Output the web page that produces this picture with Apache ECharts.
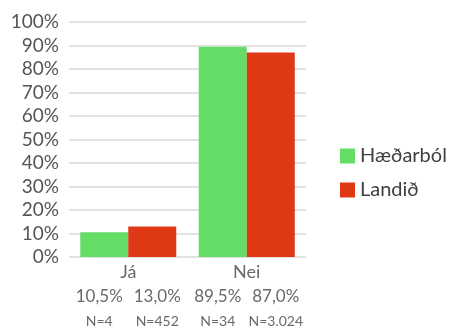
<!DOCTYPE html>
<html>
<head>
<meta charset="utf-8">
<script src="https://cdn.jsdelivr.net/npm/echarts@6/dist/echarts.min.js"></script>
<style>
  html, body { margin: 0; padding: 0; background: #fff; }
  #chart { width: 457px; height: 331px; }
</style>
</head>
<body>
<div id="chart"></div>
<script>
// Survey answers: share of respondents per answer, local area vs whole country
const categories = ['Já', 'Nei'];
const seriesNames = ['Hæðarból', 'Landið'];
const haedarbolValues = [10.5, 89.5];
const landidValues = [13.0, 87.0];
const haedarbolCounts = ['N=4', 'N=34'];
const landidCounts = ['N=452', 'N=3.024'];
const yTicks = [0, 10, 20, 30, 40, 50, 60, 70, 80, 90, 100];

const FONT = 'Lato, "Noto Sans", sans-serif';
const TEXT = '#6a6a6a';
const fmt = v => v.toFixed(1).replace('.', ',') + '%';

function labelFor(counts, dx) {
  return {
    show: true,
    position: 'bottom',
    distance: 28,
    offset: [dx, 0],
    formatter: p => '{v|' + fmt(p.value) + '}\n{n|' + counts[p.dataIndex] + '}',
    rich: {
      v: { fontFamily: FONT, fontSize: 17, color: TEXT, lineHeight: 24, align: 'center' },
      n: { fontFamily: FONT, fontSize: 14, color: TEXT, lineHeight: 24, align: 'center' }
    }
  };
}

const chart = echarts.init(document.getElementById('chart'));
chart.setOption({
  animation: false,
  grid: { left: 69, right: 151, top: 22, bottom: 74 },
  legend: {
    orient: 'vertical',
    left: 340,
    top: 146,
    padding: 0,
    itemWidth: 15,
    itemHeight: 15,
    itemGap: 14,
    itemTextGap: 7,
    icon: 'rect',
    textStyle: { fontFamily: FONT, fontSize: 20, color: '#404040' },
    data: seriesNames
  },
  xAxis: {
    type: 'category',
    data: categories,
    axisLine: { show: false },
    axisTick: { show: false },
    axisLabel: { margin: 6, fontFamily: FONT, fontSize: 18, color: TEXT }
  },
  yAxis: {
    type: 'value',
    min: yTicks[0],
    max: yTicks[yTicks.length - 1],
    interval: 10,
    axisLine: { show: false },
    axisTick: { show: false },
    axisLabel: { margin: 10, fontFamily: FONT, fontSize: 19, color: '#555', formatter: '{value}%' },
    splitLine: { lineStyle: { color: '#d9d9d9', width: 1.5 } }
  },
  series: [
    {
      name: seriesNames[0],
      type: 'bar',
      data: haedarbolValues,
      barGap: '0%',
      barCategoryGap: '19%',
      itemStyle: { color: '#64dc66' },
      label: labelFor(haedarbolCounts, -5)
    },
    {
      name: seriesNames[1],
      type: 'bar',
      data: landidValues,
      barGap: '0%',
      barCategoryGap: '19%',
      itemStyle: { color: '#de3914' },
      label: labelFor(landidCounts, 5)
    }
  ]
});
</script>
</body>
</html>
